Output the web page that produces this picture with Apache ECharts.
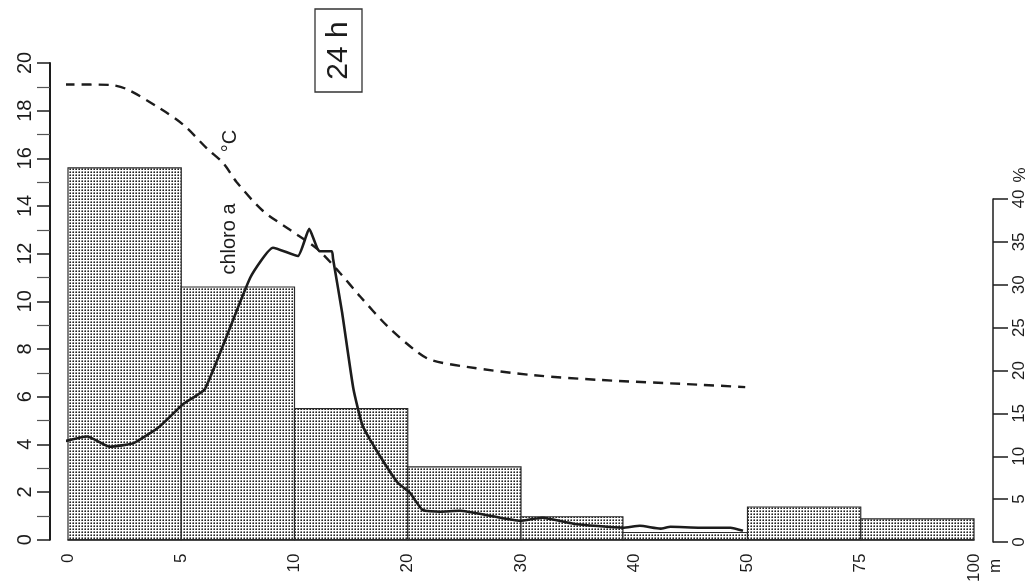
<!DOCTYPE html>
<html>
<head>
<meta charset="utf-8">
<script src="https://cdn.jsdelivr.net/npm/echarts@6/dist/echarts.min.js"></script>
<style>
html,body{margin:0;padding:0;background:#fff;}
#chart{width:1032px;height:585px;}
</style>
</head>
<body>
<div id="chart"></div>
<script>
// x axis is ordinal-like: tick positions 0..8 carry these depth labels
const tickLabels = ['0','5','10','20','30','40','50','75','100'];
// histogram bins (in axis slot units) and heights
const binStart = [0, 1, 2, 3, 4, 4.9, 6, 7];
const binEnd   = [1, 2, 3, 4, 4.9, 6, 7, 8];
const binValues = [15.6, 10.6, 5.5, 3.05, 0.96, 0.3, 1.37, 0.87];
// chloro a profile
const chloroX = [-0.04,0.17,0.37,0.58,0.81,1.02,1.21,1.61,1.81,2.03,2.13,2.22,2.33,2.34,2.42,2.52,2.60,2.73,2.91,3.02,3.13,3.28,3.46,3.73,3.99,4.19,4.46,4.90,5.05,5.23,5.32,5.58,5.85,5.96];
const chloroY = [4.12,4.33,3.9,4.05,4.75,5.7,6.33,11.0,12.25,11.9,13.04,12.1,12.1,11.8,9.54,6.33,4.8,3.7,2.4,1.96,1.25,1.17,1.21,1.0,0.79,0.92,0.67,0.5,0.58,0.46,0.54,0.5,0.5,0.37];
// temperature profile (°C)
const tempX = [-0.03,0.37,0.52,0.81,1.02,1.23,1.37,1.49,1.72,1.96,2.2,2.40,2.58,2.82,3.05,3.2,3.52,4.11,4.70,5.58,5.98];
const tempY = [19.1,19.08,18.9,18.1,17.4,16.4,15.8,15.0,13.8,13.0,12.2,11.2,10.2,8.96,8.0,7.55,7.25,6.9,6.7,6.5,6.4];

const FONT = '"Liberation Sans", Arial, sans-serif';
const INK = '#1c1c1c';

// stipple pattern
const pc = document.createElement('canvas');
pc.width = 3; pc.height = 3;
const pctx = pc.getContext('2d');
pctx.fillStyle = '#ffffff'; pctx.fillRect(0,0,3,3);
pctx.fillStyle = '#bbbbbb'; pctx.fillRect(0,0,1,1);
pctx.fillStyle = '#777777'; pctx.fillRect(0,1,1,1); pctx.fillRect(1,0,1,1);
pctx.fillStyle = '#222222'; pctx.fillRect(1,1,1,1);
const pattern = {image: pc, repeat: 'repeat'};

const bins = binStart.map((s,i)=>[s, binEnd[i], binValues[i]]);
const chloro = chloroX.map((x,i)=>[x, chloroY[i]]);
const temp = tempX.map((x,i)=>[x, tempY[i]]);

const chart = echarts.init(document.getElementById('chart'), null, {renderer:'canvas'});
chart.setOption({
  backgroundColor: '#fff',
  animation: false,
  grid: [
    {left: 68, right: 58, top: 63, bottom: 43},
    {left: 68, right: 58, top: 199, bottom: 43}
  ],
  xAxis: [
    {
      type: 'value', gridIndex: 0, min: 0, max: 8, interval: 1,
      axisLine: {show: true, onZero: false, lineStyle: {color: INK, width: 1.5}},
      axisTick: {show: false},
      splitLine: {show: false},
      axisLabel: {
        rotate: 90, margin: 14, fontSize: 17, fontFamily: FONT, color: INK,
        formatter: v => tickLabels[Math.round(v)] ?? ''
      }
    },
    {type: 'value', gridIndex: 1, min: 0, max: 8, show: false}
  ],
  yAxis: [
    {
      type: 'value', gridIndex: 0, position: 'left', offset: 18,
      min: 0, max: 20, interval: 2,
      axisLine: {show: true, onZero: false, lineStyle: {color: INK, width: 2}},
      axisTick: {show: true, length: 13, lineStyle: {color: INK, width: 1.5}},
      minorTick: {show: true, splitNumber: 2, length: 13, lineStyle: {color: '#555', width: 1.2}},
      splitLine: {show: false},
      axisLabel: {rotate: 90, margin: 15, fontSize: 20, fontFamily: FONT, color: INK}
    },
    {
      type: 'value', gridIndex: 1, position: 'right', offset: 19,
      min: 0, max: 40, interval: 5,
      axisLine: {show: true, onZero: false, lineStyle: {color: INK, width: 1.5}},
      axisTick: {show: true, length: 15, lineStyle: {color: INK, width: 1.5}},
      splitLine: {show: false},
      axisLabel: {rotate: 90, margin: 18, fontSize: 17, fontFamily: FONT, color: INK}
    }
  ],
  series: [
    {
      type: 'custom', xAxisIndex: 0, yAxisIndex: 0,
      data: bins,
      clip: false,
      renderItem: function (params, api) {
        const x0 = api.value(0), x1 = api.value(1), v = api.value(2);
        const p0 = api.coord([x0, v]);
        const p1 = api.coord([x1, 0]);
        return {
          type: 'rect',
          shape: {x: p0[0], y: p0[1], width: p1[0] - p0[0], height: p1[1] - p0[1]},
          style: {fill: pattern, stroke: '#2a2a2a', lineWidth: 1.2}
        };
      },
      z: 1
    },
    {
      type: 'line', xAxisIndex: 0, yAxisIndex: 0,
      data: chloro, showSymbol: false, symbol: 'none', clip: false,
      smooth: 0.15,
      lineStyle: {color: INK, width: 2.6},
      z: 3
    },
    {
      type: 'line', xAxisIndex: 0, yAxisIndex: 0,
      data: temp, showSymbol: false, symbol: 'none', clip: false,
      smooth: 0.3,
      lineStyle: {color: INK, width: 2.4, type: [10, 7]},
      z: 3
    }
  ],
  graphic: [
    {type: 'rect', shape: {x: 315, y: 9, width: 47, height: 83}, style: {fill: 'none', stroke: '#333', lineWidth: 1.3}},
    {type: 'text', x: 338.5, y: 50.5, rotation: Math.PI/2,
      style: {text: '24 h', font: '30px ' + FONT, fill: INK, align: 'center', verticalAlign: 'middle'}},
    {type: 'text', x: 229, y: 239, rotation: Math.PI/2,
      style: {text: 'chloro a', font: '20px ' + FONT, fill: INK, align: 'center', verticalAlign: 'middle'}},
    {type: 'text', x: 230, y: 141, rotation: Math.PI/2,
      style: {text: '°C', font: '20px ' + FONT, fill: INK, align: 'center', verticalAlign: 'middle'}},
    {type: 'text', x: 1020, y: 175, rotation: Math.PI/2,
      style: {text: '%', font: '17px ' + FONT, fill: INK, align: 'center', verticalAlign: 'middle'}},
    {type: 'text', x: 995, y: 566, rotation: Math.PI/2,
      style: {text: 'm', font: '17px ' + FONT, fill: INK, align: 'center', verticalAlign: 'middle'}}
  ]
});
</script>
</body>
</html>
